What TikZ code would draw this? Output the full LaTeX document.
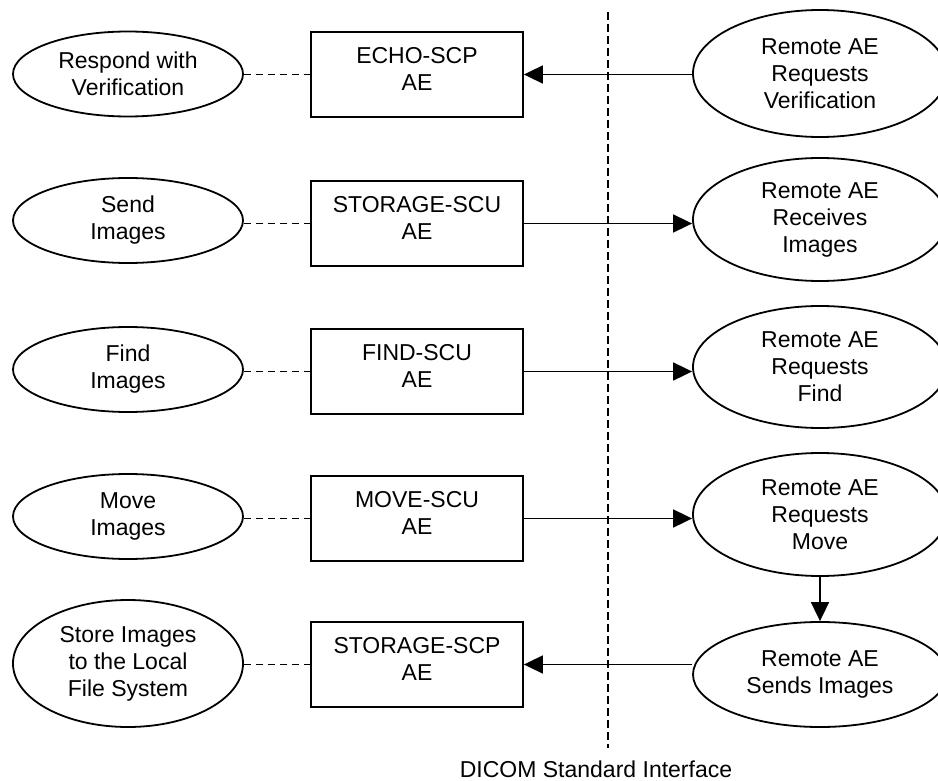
\documentclass[tikz,border=0pt]{standalone}
\usepackage{fontspec}
\setmainfont{Liberation Sans}
\usetikzlibrary{arrows.meta,shapes.geometric}
\begin{document}
\begin{tikzpicture}[x=1pt,y=-1pt,
  font=\fontsize{23}{27}\selectfont,
  line width=1.8pt,
  lell/.style={draw, ellipse, minimum width=230pt, minimum height=85pt, inner sep=0pt, align=center},
  rell/.style={draw, ellipse, minimum width=254pt, inner sep=0pt, align=center},
  aebox/.style={draw, rectangle, minimum width=212pt, minimum height=85pt, inner sep=0pt},
  boxtxt/.style={align=center, inner sep=0pt},
  dline/.style={line width=1.6pt, dash pattern=on 7pt off 5pt},
  vline/.style={line width=1.6pt, dash pattern=on 8pt off 4pt},
  arr/.style={-{Triangle[length=19pt,width=18pt]}}
]
\useasboundingbox (0,0) rectangle (938,781);
\clip (0,0) rectangle (938,781);

% left ellipses
\node[lell] (l1) at (128,74) {Respond with\\Verification};
\node[lell] (l2) at (128,220.5) {Send\\Images};
\node[lell] (l3) at (128,369.5) {Find\\Images};
\node[lell] (l4) at (128,516.5) {Move\\Images};
\node[lell, minimum height=127pt] (l5) at (128,663.5) {Store Images\\to the Local\\File System};

% boxes
\node[aebox] (b1) at (417,74.5) {};
\node[aebox] (b2) at (417,223.5) {};
\node[aebox] (b3) at (417,371.5) {};
\node[aebox] (b4) at (417,518.5) {};
\node[aebox] (b5) at (417,664.5) {};
\node[boxtxt] (t1) at ([yshift=6pt]b1.center) {ECHO-SCP\\AE};
\node[boxtxt] (t2) at ([yshift=6pt]b2.center) {STORAGE-SCU\\AE};
\node[boxtxt] (t3) at ([yshift=6pt]b3.center) {FIND-SCU\\AE};
\node[boxtxt] (t4) at ([yshift=6pt]b4.center) {MOVE-SCU\\AE};
\node[boxtxt] (t5) at ([yshift=6pt]b5.center) {STORAGE-SCP\\AE};

% right ellipses
\node[rell, minimum height=127pt] (r1) at (820,73.5) {Remote AE\\Requests\\Verification};
\node[rell, minimum height=123pt] (r2) at (820,219.5) {Remote AE\\Receives\\Images};
\node[rell, minimum height=122pt] (r3) at (820,367) {Remote AE\\Requests\\Find};
\node[rell, minimum height=123pt] (r4) at (820,514.5) {Remote AE\\Requests\\Move};
\node[rell, minimum height=105pt] (r5) at (820,674.5) {Remote AE\\Sends Images};

% dashed links
\foreach \i in {1,...,5}{
  \draw[dline] (b\i.west -| l\i.east) -- (b\i.west);
}

% arrows
\draw[arr] (b1.east -| r1.west) -- (b1.east);
\draw[arr] (b2.east) -- (b2.east -| r2.west);
\draw[arr] (b3.east) -- (b3.east -| r3.west);
\draw[arr] (b4.east) -- (b4.east -| r4.west);
\draw[arr] (b5.east -| r5.west) -- (b5.east);
\draw[arr] (r4.south) -- (r5.north);

% interface line
\coordinate (itop) at (608,12);
\coordinate (ibot) at (608,748);
\draw[vline] (itop) -- (ibot);
\node[anchor=base, inner sep=0pt] (dicom) at (596,777) {DICOM Standard Interface};
\end{tikzpicture}
\end{document}
